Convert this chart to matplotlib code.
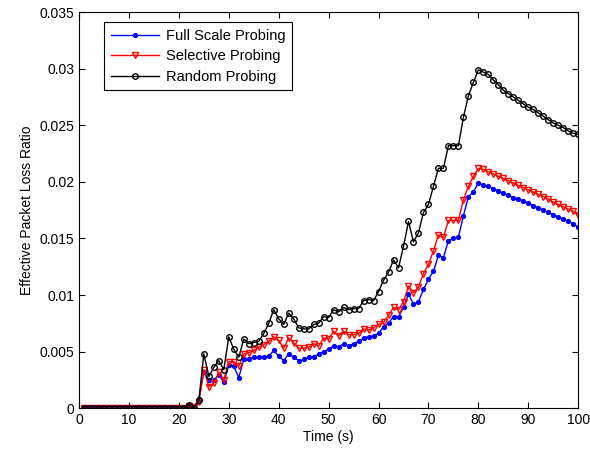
import numpy as np
import matplotlib
matplotlib.use("Agg")
from matplotlib import pyplot as plt

plt.rcParams['font.family'] = ['Liberation Sans', 'DejaVu Sans']

# tiempo (s)
tiempo = np.arange(1, 101)

ceros = [0.0] * 21

full_scale = ceros + [
    0.0003, 0.0001, 0.0008, 0.0032, 0.0025, 0.0025, 0.0029, 0.0023, 0.0038, 0.0037,
    0.0027, 0.0043, 0.0043, 0.0045, 0.0045, 0.0045, 0.0046, 0.0051, 0.0046, 0.0042,
    0.0048, 0.0045, 0.0042, 0.0043, 0.0045, 0.0045, 0.0048, 0.0050, 0.0052, 0.0055,
    0.0054, 0.0057, 0.0055, 0.0057, 0.0059, 0.0062, 0.0063, 0.0064, 0.0066, 0.0072,
    0.0075, 0.0081, 0.0081, 0.0089, 0.0101, 0.0092, 0.0094, 0.0105, 0.0114, 0.0121,
    0.0135, 0.0133, 0.0148, 0.0150, 0.0151, 0.0170, 0.0187, 0.0191, 0.0199, 0.0197,
    0.0196, 0.0194, 0.0192, 0.0190, 0.0188, 0.0186, 0.0185, 0.0183, 0.0181, 0.0179,
    0.0177, 0.0175, 0.0173, 0.0171, 0.0169, 0.0167, 0.0165, 0.0163, 0.0160]

selective = ceros + [
    0.0002, 0.0001, 0.0005, 0.0034, 0.0019, 0.0022, 0.0032, 0.0025, 0.0041, 0.0041,
    0.0037, 0.0048, 0.0049, 0.0051, 0.0054, 0.0056, 0.0059, 0.0063, 0.0060, 0.0053,
    0.0062, 0.0058, 0.0053, 0.0053, 0.0054, 0.0057, 0.0055, 0.0062, 0.0061, 0.0068,
    0.0064, 0.0068, 0.0065, 0.0065, 0.0066, 0.0070, 0.0069, 0.0071, 0.0074, 0.0076,
    0.0082, 0.0089, 0.0087, 0.0094, 0.0108, 0.0102, 0.0107, 0.0119, 0.0127, 0.0139,
    0.0153, 0.0151, 0.0166, 0.0166, 0.0166, 0.0184, 0.0196, 0.0205, 0.0212, 0.0211,
    0.0209, 0.0207, 0.0205, 0.0203, 0.0201, 0.0199, 0.0197, 0.0195, 0.0193, 0.0191,
    0.0189, 0.0187, 0.0185, 0.0182, 0.0180, 0.0178, 0.0176, 0.0174, 0.0171]

random_p = ceros + [
    0.0003, 0.0000, 0.0007, 0.0048, 0.0028, 0.0036, 0.0042, 0.0034, 0.0063, 0.0052,
    0.0045, 0.0061, 0.0057, 0.0058, 0.0059, 0.0066, 0.0075, 0.0087, 0.0079, 0.0074,
    0.0084, 0.0079, 0.0071, 0.0070, 0.0070, 0.0074, 0.0075, 0.0081, 0.0080, 0.0087,
    0.0085, 0.0089, 0.0087, 0.0088, 0.0088, 0.0095, 0.0096, 0.0095, 0.0103, 0.0113,
    0.0120, 0.0131, 0.0124, 0.0143, 0.0165, 0.0147, 0.0155, 0.0173, 0.0180, 0.0196,
    0.0212, 0.0212, 0.0232, 0.0232, 0.0232, 0.0257, 0.0276, 0.0288, 0.0299, 0.0297,
    0.0295, 0.0290, 0.0286, 0.0281, 0.0278, 0.0275, 0.0272, 0.0269, 0.0266, 0.0264,
    0.0261, 0.0258, 0.0255, 0.0252, 0.0250, 0.0248, 0.0245, 0.0243, 0.0242]

fig = plt.figure(figsize=(5.9, 4.5), dpi=100)
ax = fig.add_axes([0.134, 0.093, 0.846, 0.88])

ax.plot(tiempo, full_scale, color='blue', marker='.', markersize=5.5, lw=1, label='Full Scale Probing')
ax.plot(tiempo, selective, color='red', marker='v', markersize=5, mfc='none', lw=1, label='Selective Probing')
ax.plot(tiempo, random_p, color='black', marker='o', markersize=4, mfc='none', lw=1, label='Random Probing')

ax.set_xlim(0, 100)
ax.set_ylim(0, 0.035)
ax.set_xticks(np.arange(0, 101, 10))
ax.set_yticks([0, 0.005, 0.01, 0.015, 0.02, 0.025, 0.03, 0.035])
ax.set_yticklabels(['0', '0.005', '0.01', '0.015', '0.02', '0.025', '0.03', '0.035'])
ax.tick_params(direction='in', top=True, right=True, labelsize=10, length=4)
ax.set_xlabel('Time (s)', fontsize=10, labelpad=2)
ax.set_ylabel('Effective Packet Loss Ratio', fontsize=10)

leg = ax.legend(loc='upper left', bbox_to_anchor=(0.05, 0.975), borderaxespad=0, fontsize=10.5,
                fancybox=False, edgecolor='black', framealpha=1, handlelength=3.3, borderpad=0.45,
                labelspacing=0.45, handletextpad=0.5)
leg.get_frame().set_linewidth(0.8)

plt.savefig("out.png", dpi=100)
